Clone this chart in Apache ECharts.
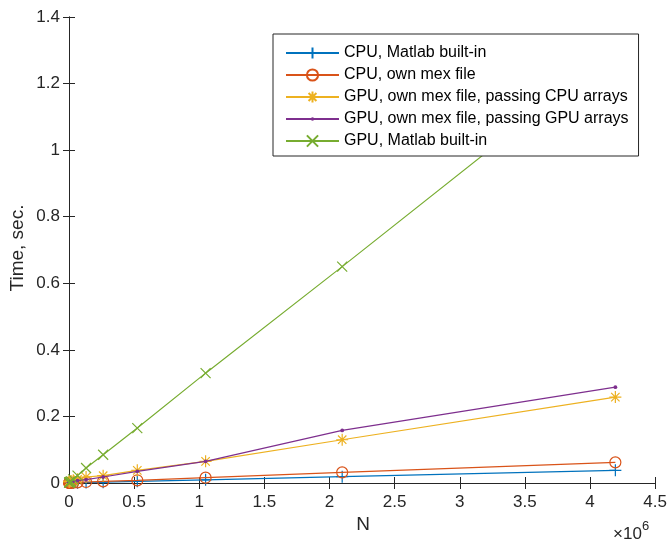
<!DOCTYPE html>
<html><head><meta charset="utf-8">
<script src="https://cdn.jsdelivr.net/npm/echarts@6/dist/echarts.min.js"></script>
<style>html,body{margin:0;padding:0;background:#fff}#c{width:670px;height:541px}</style>
</head><body><div id="c"></div>
<script>
const N = [1024, 2048, 4096, 8192, 16384, 32768, 65536, 131072, 262144, 524288, 1048576, 2097152, 4194304];
const cpuBuiltin = [0.0001, 0.0001, 0.0002, 0.0003, 0.0004, 0.0006, 0.001, 0.0015, 0.0025, 0.005, 0.0095, 0.019, 0.038];
const cpuMex = [0.0001, 0.0002, 0.0003, 0.0004, 0.0006, 0.001, 0.0018, 0.003, 0.005, 0.008, 0.016, 0.032, 0.062];
const gpuMexCpu = [0.004, 0.004, 0.005, 0.005, 0.006, 0.008, 0.011, 0.018, 0.022, 0.038, 0.065, 0.13, 0.258];
const gpuMexGpu = [0.002, 0.002, 0.003, 0.003, 0.004, 0.005, 0.007, 0.01, 0.018, 0.035, 0.065, 0.158, 0.288];
const gpuBuiltin = [0.001, 0.001, 0.002, 0.003, 0.005, 0.011, 0.022, 0.045, 0.085, 0.165, 0.33, 0.65, 1.3];
const names = ['CPU, Matlab built-in','CPU, own mex file','GPU, own mex file, passing CPU arrays','GPU, own mex file, passing GPU arrays','GPU, Matlab built-in'];
const xTicks = [0, 0.5, 1, 1.5, 2, 2.5, 3, 3.5, 4, 4.5];
const yTicks = [0, 0.2, 0.4, 0.6, 0.8, 1, 1.2, 1.4];

const colors = ['#0072BD', '#D95319', '#EDB120', '#7E2F8E', '#77AC30'];
const values = [cpuBuiltin, cpuMex, gpuMexCpu, gpuMexGpu, gpuBuiltin];
const markers = [
  {symbol: 'path://M0,-6L0,6M-6,0L6,0', size: 12, fill: false},
  {symbol: 'circle', size: 11, fill: false},
  {symbol: 'path://M0,-6L0,6M-6,0L6,0M-4.2,-4.2L4.2,4.2M-4.2,4.2L4.2,-4.2', size: 12, fill: false},
  {symbol: 'path://M-6,-6M6,6M-1.9,0A1.9,1.9,0,1,1,1.9,0A1.9,1.9,0,1,1,-1.9,0Z', size: 12, fill: true},
  {symbol: 'path://M-5,-5L5,5M-5,5L5,-5', size: 10, fill: false}
];
const font = 'Liberation Sans, Arial, sans-serif';
const axisCol = '#262626';

const series = names.map((nm, i) => ({
  name: nm,
  type: 'line',
  data: N.map((n, j) => [n, values[i][j]]),
  symbol: markers[i].symbol,
  symbolSize: markers[i].size,
  showAllSymbol: true,
  lineStyle: {color: colors[i], width: 1.2},
  itemStyle: {
    color: markers[i].fill ? colors[i] : 'rgba(0,0,0,0)',
    borderColor: colors[i],
    borderWidth: markers[i].fill ? 0 : 1.2
  },
  emphasis: {disabled: true},
  z: 2 + i
}));

const tickMin = xTicks[0] * 1e6, tickMax = xTicks[xTicks.length - 1] * 1e6;
const yMin = yTicks[0], yMax = yTicks[yTicks.length - 1];

const chart = echarts.init(document.getElementById('c'));
chart.setOption({
  animation: false,
  backgroundColor: '#fff',
  textStyle: {fontFamily: font},
  grid: {left: 69, right: 12, top: 17, bottom: 58},
  legend: {
    data: names,
    orient: 'vertical',
    left: 273, top: 34,
    padding: [11, 10, 7, 12],
    itemGap: 6,
    itemWidth: 53,
    itemHeight: 14,
    backgroundColor: '#fff',
    borderColor: axisCol,
    borderWidth: 1,
    borderRadius: 0,
    textStyle: {fontSize: 16, color: '#000', fontFamily: font},
    z: 10
  },
  xAxis: [{
    type: 'value', min: tickMin, max: tickMax, interval: 0.5e6,
    position: 'bottom',
    axisLine: {lineStyle: {color: axisCol, width: 1}},
    axisTick: {inside: true, length: 6, lineStyle: {color: axisCol}},
    axisLabel: {color: axisCol, fontSize: 17, margin: 11,
      formatter: v => String(+(v / 1e6).toFixed(1))},
    splitLine: {show: false}
  }, {
    type: 'value', min: tickMin, max: tickMax, interval: 0.5e6,
    position: 'top',
    axisLine: {show: true, lineStyle: {color: axisCol, width: 1}},
    axisTick: {show: true, inside: true, length: 6, lineStyle: {color: axisCol}},
    axisLabel: {show: false},
    splitLine: {show: false}
  }],
  yAxis: [{
    type: 'value', min: yMin, max: yMax, interval: 0.2,
    position: 'left',
    axisLine: {show: true, lineStyle: {color: axisCol, width: 1}},
    axisTick: {show: true, inside: true, length: 6, lineStyle: {color: axisCol}},
    axisLabel: {color: axisCol, fontSize: 17, margin: 9,
      formatter: v => String(+v.toFixed(1))},
    splitLine: {show: false}
  }, {
    type: 'value', min: yMin, max: yMax, interval: 0.2,
    position: 'right',
    axisLine: {show: true, lineStyle: {color: axisCol, width: 1}},
    axisTick: {show: true, inside: true, length: 6, lineStyle: {color: axisCol}},
    axisLabel: {show: false},
    splitLine: {show: false}
  }],
  graphic: [
    {type: 'text', x: 363, y: 525, style: {text: 'N', fontSize: 19, fill: axisCol, fontFamily: font, align: 'center', verticalAlign: 'middle'}},
    {type: 'text', x: 18, y: 248, rotation: Math.PI / 2, style: {text: 'Time, sec.', fontSize: 19, fill: axisCol, fontFamily: font, align: 'center', verticalAlign: 'middle'}},
    {type: 'text', x: 613, y: 534, style: {text: '×10', fontSize: 17, fill: axisCol, fontFamily: font, align: 'left', verticalAlign: 'middle'}},
    {type: 'text', x: 642, y: 526, style: {text: '6', fontSize: 13, fill: axisCol, fontFamily: font, align: 'left', verticalAlign: 'middle'}}
  ],
  series: series
});
</script>
</body></html>
